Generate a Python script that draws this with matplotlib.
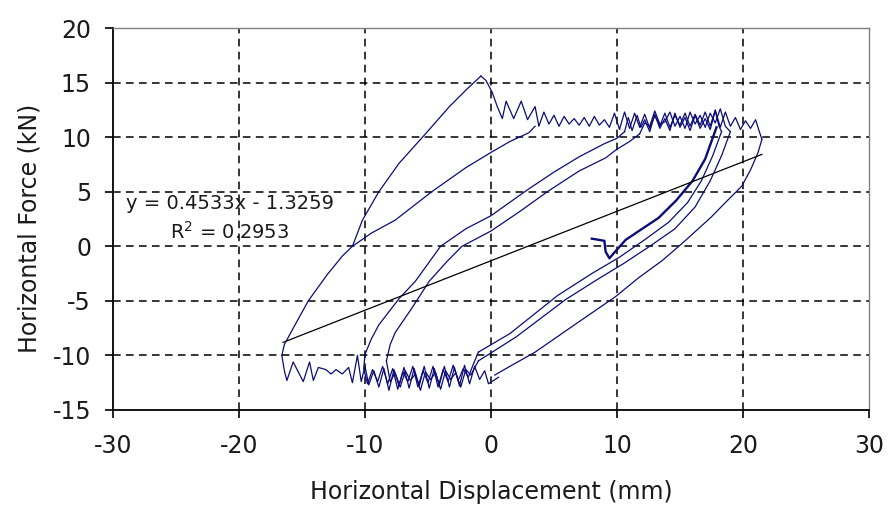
import matplotlib
matplotlib.use('Agg')
import matplotlib.pyplot as plt

plt.rcParams['font.family'] = ['DejaVu Sans']
plt.rcParams['axes.unicode_minus'] = False

# --- branches of the hysteresis loop (displacement mm, force kN) ---
# start hook + first (thick) loading branch
hook_x = [8.0, 9.0, 9.1, 9.4, 10.0, 10.7, 12.0, 13.3, 14.7, 16.0, 17.0, 17.9]
hook_y = [0.7, 0.5, -0.5, -1.1, -0.3, 0.6, 1.6, 2.6, 4.2, 6.0, 8.0, 10.9]

# outer reloading branch from the lower-left corner up to the peak
outer_up_x = [-16.6, -16.4, -15.6, -14.5, -13.0, -11.8, -11.0, -10.2, -8.9, -7.3, -5.2, -3.3, -2.0, -0.8]
outer_up_y = [-10.0, -9.0, -7.3, -5.0, -2.6, -0.9, 0.0, 2.4, 5.0, 7.6, 10.3, 12.8, 14.3, 15.6]

# branch leaving the outer branch at (-11, 0)
mid_up_x = [-11.0, -9.5, -7.6, -4.7, -2.0, 0.0, 1.5, 3.0, 3.5]
mid_up_y = [0.0, 1.2, 2.4, 5.0, 7.2, 8.6, 9.6, 10.4, 11.0]

# inner reloading branches
c1_x = [-10.0, -9.5, -8.9, -7.3, -6.0, -4.0, -2.0, 0.0, 2.8, 5.0, 7.0, 9.0, 10.0, 10.6]
c1_y = [-9.9, -8.5, -7.2, -4.8, -3.2, 0.0, 1.6, 2.8, 5.1, 6.8, 8.2, 9.4, 9.9, 10.5]
c2_x = [-8.3, -8.0, -7.6, -6.3, -4.9, -3.5, -2.3, 0.0, 2.3, 4.6, 7.0, 9.1, 10.0, 11.0, 11.8]
c2_y = [-10.5, -9.0, -7.9, -5.7, -3.2, -1.4, 0.0, 1.4, 3.2, 5.1, 6.9, 8.1, 8.9, 9.6, 10.3]

# unloading branches (right side)
e1_x = [18.3, 17.6, 16.7, 15.6, 14.1, 12.2, 10.2, 8.0, 5.3, 1.5, -1.0]
e1_y = [10.5, 8.3, 6.0, 4.0, 2.2, 0.6, -1.0, -2.5, -4.5, -8.0, -9.7]
e2_x = [19.0, 18.3, 17.4, 16.2, 14.6, 12.6, 10.5, 8.5, 5.9, 2.0, -1.0]
e2_y = [10.5, 8.3, 6.0, 3.6, 1.6, 0.0, -1.6, -3.0, -4.9, -8.3, -10.5]
e3_x = [21.5, 21.2, 20.6, 19.9, 18.6, 17.5, 15.5, 13.6, 11.7, 9.9, 6.5, 3.5, 1.5, 0.3]
e3_y = [9.8, 8.6, 7.0, 5.5, 4.0, 2.7, 0.6, -1.3, -2.9, -4.6, -7.3, -9.7, -11.0, -11.8]

# upper plateau (oscillating)
upper_x = [-0.8, -0.4, 0.1, 0.5, 0.9, 1.2, 1.8, 2.4, 2.9, 3.5, 3.8, 4.2, 4.6, 5.0, 5.4,
           5.8, 6.2, 6.6, 7.0, 7.4, 7.8, 8.2, 8.6, 9.0, 9.4, 9.8, 10.2, 10.6, 11.0, 11.4,
           11.8, 12.2, 12.6, 13.0, 13.4, 13.8, 14.2, 14.6, 15.0, 15.4, 15.8, 16.2, 16.6,
           17.0, 17.4, 17.8, 18.2, 18.6, 19.0, 19.4, 19.8, 20.2, 20.6, 21.0, 21.3, 21.5]
upper_y = [15.6, 15.2, 14.1, 12.8, 11.7, 13.3, 11.7, 13.3, 11.6, 12.8, 11.0, 12.3, 11.2, 12.0, 11.0,
           11.9, 11.2, 11.7, 11.1, 11.8, 11.0, 11.9, 11.1, 11.6, 10.9, 12.2, 10.7, 12.3, 10.8, 12.2,
           10.9, 12.1, 10.8, 12.0, 11.0, 12.2, 10.9, 12.0, 11.1, 12.2, 11.0, 12.1, 11.1,
           12.3, 11.0, 12.5, 10.9, 12.3, 11.0, 11.8, 10.7, 11.5, 10.8, 11.6, 10.5, 9.8]
upper2_x = [10.6, 10.9, 11.2, 11.6, 11.9, 12.2, 12.6, 13.0, 13.4, 13.8, 14.2, 14.6, 15.0, 15.4,
            15.8, 16.2, 16.6, 17.0, 17.4, 17.8, 18.1, 18.3]
upper2_y = [10.5, 11.8, 10.6, 12.0, 10.9, 11.6, 10.5, 12.1, 10.8, 11.7, 10.6, 12.2, 10.9, 11.8,
            10.6, 12.0, 10.8, 11.7, 10.7, 12.4, 11.0, 10.5]
upper3_x = [11.8, 12.2, 12.6, 13.0, 13.4, 13.8, 14.2, 14.6, 15.0, 15.4, 15.8, 16.2, 16.6, 17.0,
            17.4, 17.8, 18.2, 18.6, 19.0]
upper3_y = [10.3, 11.3, 11.0, 12.4, 11.2, 11.4, 12.3, 11.0, 11.9, 10.8, 12.3, 11.2, 12.0, 10.9,
            12.2, 11.3, 12.6, 11.0, 10.5]

# lower plateau (oscillating)
lower_x = [0.6, 0.2, -0.2, -0.5, -0.9, -1.3, -1.7, -2.1, -2.5, -2.9, -3.3, -3.7, -4.1, -4.5,
           -4.9, -5.3, -5.7, -6.1, -6.5, -6.9, -7.3, -7.7, -8.1, -8.5, -8.9, -9.3, -9.7, -10.0,
           -10.3, -10.6, -11.0, -11.3, -11.8, -12.3, -12.7, -13.1, -13.7, -14.1, -14.4, -14.9,
           -15.7, -16.2, -16.4, -16.6]
lower_y = [-12.0, -12.3, -12.6, -11.4, -12.2, -11.0, -12.6, -10.9, -12.8, -11.1, -12.9, -11.0, -12.7, -11.2,
           -13.0, -11.0, -12.8, -11.2, -13.0, -11.1, -12.8, -11.3, -13.2, -11.2, -12.9, -11.4, -12.7, -11.0,
           -12.4, -10.0, -12.5, -11.1, -11.7, -11.3, -11.7, -11.3, -11.1, -12.3, -10.6, -12.4,
           -10.6, -12.3, -11.4, -10.0]
lower2_x = [-1.0, -1.4, -1.8, -2.2, -2.6, -3.0, -3.4, -3.8, -4.2, -4.6, -5.0, -5.4, -5.8, -6.2,
            -6.6, -7.0, -7.4, -7.8, -8.2, -8.6, -9.0, -9.4, -9.8, -10.1, -10.0]
lower2_y = [-9.7, -10.8, -12.0, -11.2, -12.3, -10.9, -12.4, -11.3, -12.9, -11.0, -12.5, -11.4, -12.9, -11.0,
            -12.4, -11.5, -13.1, -11.2, -12.6, -11.0, -12.4, -11.3, -12.6, -11.2, -9.9]
lower3_x = [-1.0, -1.6, -2.0, -2.4, -2.8, -3.2, -3.6, -4.0, -4.4, -4.8, -5.2, -5.6, -6.0, -6.4,
            -6.8, -7.2, -7.6, -8.0, -8.3]
lower3_y = [-10.5, -11.8, -11.3, -12.9, -11.6, -12.2, -11.4, -13.1, -11.6, -12.2, -11.5, -13.2, -11.7, -12.3,
            -11.4, -12.9, -11.6, -12.4, -10.5]

# linear trend line shown on the chart
fit_slope = 0.4533
fit_intercept = -1.3259
fit_x = [-16.5, 21.5]
fit_y = [fit_slope * v + fit_intercept for v in fit_x]

x_ticks = [-30, -20, -10, 0, 10, 20, 30]
y_ticks = [-15, -10, -5, 0, 5, 10, 15, 20]

navy = '#0c0c78'
text_col = '#1a1a1a'

fig = plt.figure(figsize=(8.94, 5.13), dpi=100)
ax = fig.add_axes([0.1264, 0.2008, 0.8456, 0.7446])

branches = [
    (outer_up_x, outer_up_y), (mid_up_x, mid_up_y), (c1_x, c1_y), (c2_x, c2_y),
    (e1_x, e1_y), (e2_x, e2_y), (e3_x, e3_y),
    (upper_x, upper_y), (upper2_x, upper2_y), (upper3_x, upper3_y),
    (lower_x, lower_y), (lower2_x, lower2_y), (lower3_x, lower3_y),
]
for bx, by in branches:
    ax.plot(bx, by, color=navy, lw=0.9, zorder=3)
ax.plot(hook_x, hook_y, color=navy, lw=1.7, zorder=3)

ax.plot(fit_x, fit_y, color='black', lw=0.9, zorder=4)

ax.text(-28.97, 3.43, 'y = 0.4533x - 1.3259', fontsize=14, color=text_col,
        ha='left', va='baseline', zorder=5)
ax.text(-25.5, 0.65, 'R$^2$ = 0.2953', fontsize=14, color=text_col,
        ha='left', va='baseline', zorder=5)

ax.set_xlim(-30, 30)
ax.set_ylim(-15, 20)
ax.set_xticks(x_ticks)
ax.set_yticks(y_ticks)

ax.grid(True, color='black', lw=1.1, linestyle=(0, (5, 3.5)), zorder=1)
ax.set_axisbelow(True)
for gl in [ax.get_xgridlines()[0], ax.get_xgridlines()[-1],
           ax.get_ygridlines()[0], ax.get_ygridlines()[-1]]:
    gl.set_visible(False)

for side in ['left', 'bottom']:
    ax.spines[side].set_color('black')
    ax.spines[side].set_linewidth(1.3)
for side in ['top', 'right']:
    ax.spines[side].set_color('#808080')
    ax.spines[side].set_linewidth(1.0)

ax.tick_params(axis='x', direction='out', length=5.5, width=1.2, pad=12,
               labelsize=17, labelcolor=text_col)
ax.tick_params(axis='y', direction='out', length=5.8, width=1.2, pad=10,
               labelsize=17, labelcolor=text_col)

ax.set_xlabel('Horizontal Displacement (mm)', fontsize=17, color=text_col)
ax.set_ylabel('Horizontal Force (kN)', fontsize=17, color=text_col)
ax.xaxis.set_label_coords(0.5, -0.183)
ax.xaxis.label.set_va('top')
ax.yaxis.set_label_coords(-0.094, 0.476)

fig.savefig('out.png', dpi=100)
